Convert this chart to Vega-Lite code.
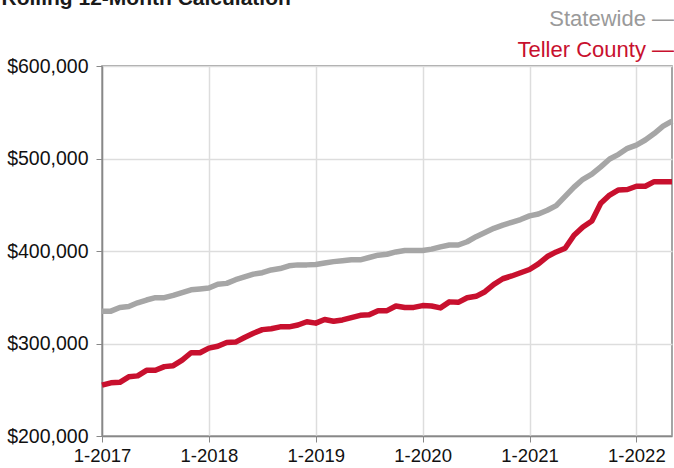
{
  "$schema": "https://vega.github.io/schema/vega-lite/v6.json",
  "autosize": {"type": "none"},
  "width": 570,
  "height": 370,
  "padding": {"left": 102, "top": 66, "right": 2, "bottom": 32},
  "background": "white",
  "config": {
    "font": "Liberation Sans",
    "view": {"stroke": "#888888", "strokeWidth": 1.5}
  },
  "datasets": {
    "rows": [
      {"i": 0, "Statewide": 335000, "Teller County": 255000},
      {"i": 1, "Statewide": 335000, "Teller County": 257500},
      {"i": 2, "Statewide": 339000, "Teller County": 258000},
      {"i": 3, "Statewide": 340000, "Teller County": 264000},
      {"i": 4, "Statewide": 344000, "Teller County": 265000},
      {"i": 5, "Statewide": 347000, "Teller County": 271000},
      {"i": 6, "Statewide": 349500, "Teller County": 271000},
      {"i": 7, "Statewide": 349500, "Teller County": 275000},
      {"i": 8, "Statewide": 352000, "Teller County": 276000},
      {"i": 9, "Statewide": 355000, "Teller County": 282000},
      {"i": 10, "Statewide": 358000, "Teller County": 290000},
      {"i": 11, "Statewide": 359000, "Teller County": 290000},
      {"i": 12, "Statewide": 360000, "Teller County": 295000},
      {"i": 13, "Statewide": 364000, "Teller County": 297000},
      {"i": 14, "Statewide": 365000, "Teller County": 301000},
      {"i": 15, "Statewide": 369000, "Teller County": 301500},
      {"i": 16, "Statewide": 372000, "Teller County": 306500},
      {"i": 17, "Statewide": 375000, "Teller County": 311000},
      {"i": 18, "Statewide": 376500, "Teller County": 315000},
      {"i": 19, "Statewide": 379500, "Teller County": 316000},
      {"i": 20, "Statewide": 381000, "Teller County": 318000},
      {"i": 21, "Statewide": 384000, "Teller County": 318000},
      {"i": 22, "Statewide": 385000, "Teller County": 320000},
      {"i": 23, "Statewide": 385000, "Teller County": 323500},
      {"i": 24, "Statewide": 385500, "Teller County": 322000},
      {"i": 25, "Statewide": 387000, "Teller County": 326000},
      {"i": 26, "Statewide": 388500, "Teller County": 324000},
      {"i": 27, "Statewide": 389500, "Teller County": 325500},
      {"i": 28, "Statewide": 390500, "Teller County": 328000},
      {"i": 29, "Statewide": 390500, "Teller County": 330500},
      {"i": 30, "Statewide": 393000, "Teller County": 331000},
      {"i": 31, "Statewide": 395500, "Teller County": 335500},
      {"i": 32, "Statewide": 396500, "Teller County": 335500},
      {"i": 33, "Statewide": 399000, "Teller County": 340500},
      {"i": 34, "Statewide": 400500, "Teller County": 339000},
      {"i": 35, "Statewide": 400500, "Teller County": 339000},
      {"i": 36, "Statewide": 400500, "Teller County": 341000},
      {"i": 37, "Statewide": 402000, "Teller County": 340500},
      {"i": 38, "Statewide": 404500, "Teller County": 338500},
      {"i": 39, "Statewide": 406500, "Teller County": 345000},
      {"i": 40, "Statewide": 406500, "Teller County": 344500},
      {"i": 41, "Statewide": 410000, "Teller County": 349500},
      {"i": 42, "Statewide": 415500, "Teller County": 351000},
      {"i": 43, "Statewide": 420000, "Teller County": 356000},
      {"i": 44, "Statewide": 424500, "Teller County": 364000},
      {"i": 45, "Statewide": 428000, "Teller County": 370000},
      {"i": 46, "Statewide": 431000, "Teller County": 373000},
      {"i": 47, "Statewide": 434000, "Teller County": 376500},
      {"i": 48, "Statewide": 438000, "Teller County": 380000},
      {"i": 49, "Statewide": 440000, "Teller County": 386000},
      {"i": 50, "Statewide": 444000, "Teller County": 394000},
      {"i": 51, "Statewide": 449000, "Teller County": 399000},
      {"i": 52, "Statewide": 459000, "Teller County": 403000},
      {"i": 53, "Statewide": 469000, "Teller County": 417000},
      {"i": 54, "Statewide": 477500, "Teller County": 426000},
      {"i": 55, "Statewide": 483000, "Teller County": 432500},
      {"i": 56, "Statewide": 491000, "Teller County": 451500},
      {"i": 57, "Statewide": 499500, "Teller County": 460500},
      {"i": 58, "Statewide": 504500, "Teller County": 466000},
      {"i": 59, "Statewide": 511000, "Teller County": 466500},
      {"i": 60, "Statewide": 514500, "Teller County": 470000},
      {"i": 61, "Statewide": 520000, "Teller County": 470000},
      {"i": 62, "Statewide": 527000, "Teller County": 475000},
      {"i": 63, "Statewide": 535000, "Teller County": 475000},
      {"i": 64, "Statewide": 540500, "Teller County": 475000}
    ]
  },
  "data": {"name": "rows"},
  "transform": [
    {"fold": ["Statewide", "Teller County"], "as": ["series", "price"]}
  ],
  "mark": {"type": "line", "strokeWidth": 5.5, "strokeJoin": "round", "strokeCap": "butt"},
  "encoding": {
    "x": {
      "field": "i",
      "type": "quantitative",
      "scale": {"domain": [0, 64], "nice": false, "zero": false},
      "axis": {
        "title": null,
        "values": [0, 12, 24, 36, 48, 60],
        "labelExpr": "'1-' + (2017 + datum.value / 12)",
        "labelFlush": false,
        "labelOverlap": false,
        "labelFontSize": 18.5,
        "labelColor": "#111111",
        "labelPadding": 4,
        "tickSize": 6,
        "tickColor": "#888888",
        "domainColor": "#888888",
        "domainWidth": 1.5,
        "grid": true,
        "gridColor": "#dddddd",
        "gridWidth": 1.5
      }
    },
    "y": {
      "field": "price",
      "type": "quantitative",
      "scale": {"domain": [200000, 600000], "nice": false, "zero": false},
      "axis": {
        "title": "Rolling 12-Month Calculation",
        "titleAngle": 0,
        "titleAlign": "left",
        "titleBaseline": "alphabetic",
        "titleX": -101,
        "titleY": -62,
        "titleFontSize": 21,
        "titleFontWeight": "bold",
        "titleFont": "Liberation Sans",
        "titleColor": "#1a1a1a",
        "values": [200000, 300000, 400000, 500000, 600000],
        "format": "$,.0f",
        "labelFlush": false,
        "labelOverlap": false,
        "labelFontSize": 19.5,
        "labelColor": "#111111",
        "labelPadding": 8,
        "tickSize": 6,
        "tickColor": "#888888",
        "domainColor": "#888888",
        "domainWidth": 1.5,
        "grid": true,
        "gridColor": "#dddddd",
        "gridWidth": 1.5
      }
    },
    "color": {
      "field": "series",
      "type": "nominal",
      "scale": {"domain": ["Statewide", "Teller County"], "range": ["#a6a6a6", "#c8102e"]},
      "legend": {
        "title": null,
        "orient": "none",
        "legendX": 466,
        "legendY": -58,
        "direction": "vertical",
        "symbolOpacity": 0,
        "symbolSize": 0,
        "labelExpr": "datum.label + '  \u2014'",
        "labelFontSize": 22,
        "labelAlign": "right",
        "labelOffset": 84,
        "labelLimit": 0,
        "rowPadding": 9,
        "labelColor": {"expr": "datum.value === 'Statewide' ? '#9a9a9a' : '#c8102e'"}
      }
    }
  }
}
